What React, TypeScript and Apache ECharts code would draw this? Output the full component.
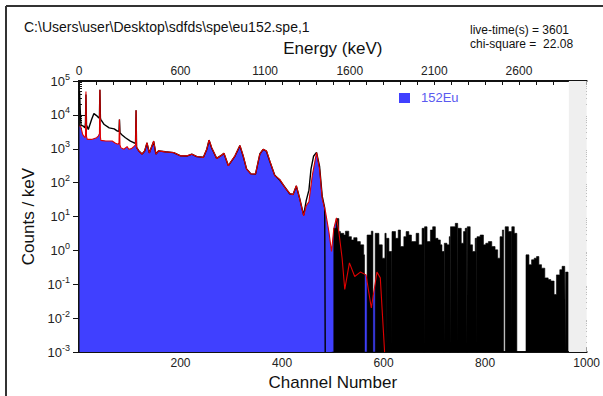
import React, { useEffect, useRef } from 'react';
import * as echarts from 'echarts';

// ---- Fit (red line / blue 152Eu area): channel, counts per keV ----
const fitChannels = [1, 3.3, 7.2, 11.8, 12.8, 13.7, 14.8, 16.3, 24.8, 34.6, 37.9, 40.3, 41.2, 42.2, 43.1, 52.9, 65.4, 71.9, 77.1, 78.8, 79.7, 80.7, 82.4, 88.2, 94.8, 98, 103.3, 107.8, 111.4, 112.4, 113.4, 117.6, 124.2, 129.4, 133.9, 138.6, 147.1, 151.6, 156.9, 170, 186.3, 199.3, 212.4, 222.2, 232, 245, 251.6, 256.2, 261.4, 271.2, 281, 285.6, 294.1, 307.2, 317, 323.5, 330.1, 338.6, 347.7, 356.2, 362.7, 369.3, 375.8, 385.6, 395.4, 405.2, 415, 421.6, 428.1, 434.6, 442.5, 447.7, 452.9, 459.5, 467.9, 473.9, 479.1, 485.6, 492.2, 497.4, 502, 507.2, 511.8, 518.3, 523.5, 532.7, 543.1, 554.2, 565.4, 575.8, 586.9, 593.5, 602];
const fitCounts = [4650, 4650, 2650, 2120, 2500, 49000, 2300, 1890, 1890, 2120, 2370, 2800, 54700, 2200, 1770, 1690, 1690, 1450, 1350, 1500, 7270, 1300, 1080, 967, 1160, 967, 1010, 1160, 1300, 13600, 1100, 865, 690, 865, 1510, 740, 1690, 690, 865, 810, 775, 618, 618, 690, 590, 552, 967, 1810, 1080, 516, 645, 740, 315, 618, 1260, 618, 252, 180, 180, 690, 967, 865, 441, 161, 125, 73, 48, 44, 82, 34, 10.5, 21, 27, 161, 775, 252, 34, 13.7, 3.6, 0.93, 4.5, 9.1, 3.6, 0.59, 0.071, 0.43, 0.17, 0.23, 0.19, 0.02, 0.23, 0.155, 0];

// ---- Measured data (black line), channels 0-485 ----
const dataChannels = [1, 2, 3, 4, 8.5, 11.8, 12.8, 13.7, 14.8, 18.3, 24.8, 29.4, 34.6, 39.2, 40.3, 41.2, 42.2, 43.1, 49.7, 59.5, 69.3, 75.8, 78.8, 79.7, 80.7, 83.7, 91.5, 101.3, 107.8, 111.4, 112.4, 113.4, 117.6, 124.2, 129.4, 133.9, 138.6, 147.1, 151.6, 156.9, 170, 186.3, 199.3, 212.4, 222.2, 232, 245, 251.6, 256.2, 261.4, 271.2, 281, 285.6, 294.1, 307.2, 317, 323.5, 330.1, 338.6, 347.7, 356.2, 362.7, 369.3, 375.8, 385.6, 395.4, 405.2, 415, 421.6, 428.1, 434.6, 442.5, 447.7, 452.9, 457, 462, 467.9, 473.9, 479.1, 484, 485];
const dataCounts = [50000, 20000, 9000, 5000, 4650, 4150, 6000, 40000, 5000, 3720, 7270, 10900, 9550, 8130, 9000, 54700, 8000, 7270, 5190, 4150, 3880, 3320, 3300, 7270, 3000, 2650, 2120, 1690, 1510, 1450, 13600, 1100, 880, 700, 860, 1480, 760, 1650, 700, 870, 820, 770, 625, 610, 700, 585, 560, 950, 1780, 1050, 520, 650, 730, 320, 610, 1240, 600, 255, 182, 178, 700, 960, 850, 430, 165, 120, 75, 47, 45, 80, 35, 11, 30, 60, 250, 600, 780, 300, 40, 18, 0];

// ---- Measured data, sparse tail (black fill), channels 498-965 (0 = empty channels) ----
const tailChannels = [498, 501.9, 506.5, 511.8, 515, 521.6, 524.8, 531.4, 536.6, 541.2, 547.7, 554.2, 560.8, 562.5, 567.5, 575.8, 579, 583.5, 587.6, 590.8, 597.4, 602.6, 605, 605.6, 607.2, 610.5, 616, 616.6, 623.5, 628.8, 633.3, 639.9, 644.4, 649.7, 654.9, 659.5, 664.1, 669.3, 675.8, 680, 680.7, 685.6, 692.2, 696.7, 702, 707.2, 711.8, 715, 719, 719.6, 724.8, 729.4, 731, 731.8, 734.6, 741.2, 746, 746.6, 753, 757.5, 760.8, 764, 764.8, 770.6, 775.2, 780.4, 783.5, 784, 790.2, 796.7, 801.3, 806.5, 813.1, 819.6, 824.8, 829.4, 834, 836.5, 839.5, 845.8, 852, 852.6, 857.5, 862.5, 880.5, 886.3, 891.5, 896.7, 901.3, 905.9, 911.1, 917.6, 924.2, 929.4, 935.9, 940.5, 947.1, 951.6, 956.9, 958, 958.6, 960.8, 963.4];
const tailCounts = [0, 4.5, 8.7, 3.6, 3.2, 2.85, 3.7, 2.55, 2.04, 2.38, 1.82, 1.46, 0.74, 0, 2.85, 3.7, 0, 3.2, 3.2, 1.46, 0.59, 3.2, 0, 2.28, 2.28, 0.93, 0, 3.6, 2.28, 4.0, 1.3, 2.55, 3.6, 2.85, 1.82, 1.82, 3.2, 1.46, 4.5, 0, 5.0, 1.82, 4.0, 5.0, 2.28, 2.04, 1.46, 0.93, 0, 1.63, 1.46, 2.55, 0, 5.0, 5.0, 6.3, 0, 4.5, 1.63, 3.6, 4.5, 0, 5.0, 1.46, 0.93, 2.28, 0, 2.55, 2.85, 1.46, 1.63, 1.82, 1.3, 1.04, 0.59, 2.55, 4.0, 0, 5.0, 3.6, 0, 5.0, 3.2, 0, 0.74, 0.38, 0.53, 0.59, 0.66, 0.38, 0.3, 0.155, 0.138, 0.125, 0.05, 0.19, 0.27, 0.34, 0.3, 0, 0.23, 0.23, 0];

const channelLabels = [200, 400, 600, 800, 1000];
const energyLabels = [0, 600, 1100, 1600, 2100, 2600];
const decades = [-3, -2, -1, 0, 1, 2, 3, 4, 5];
const excludedRange = [965, 1000];

const FLOOR = 1e-3;
const FONT = '"Liberation Sans", Arial, Helvetica, sans-serif';

const pairs = (xs: number[], ys: number[]) => xs.map((x, i) => [x, Math.max(ys[i], FLOOR)]);

export default function App() {
  const ref = useRef<HTMLDivElement>(null);
  useEffect(() => {
    document.body.style.margin = '0';
    const chart = echarts.init(ref.current!, null, { renderer: 'svg' });
    const minorY: number[] = [];
    decades.slice(0, -1).forEach((d) => {
      for (let m = 2; m <= 9; m++) minorY.push(m * Math.pow(10, d));
    });
    const logAxisBase = {
      type: 'log' as const,
      logBase: 10,
      min: 1e-3,
      max: 1e5,
      interval: 1,
      splitLine: { show: false },
    };
    const option: any = {
      animation: false,
      textStyle: { fontFamily: FONT },
      grid: { left: 79, right: 14, top: 81, bottom: 41, containLabel: false },
      xAxis: [
        {
          type: 'value',
          position: 'bottom',
          min: 0,
          max: 1000,
          interval: 200,
          splitLine: { show: false },
          axisLine: { lineStyle: { color: '#111', width: 2 } },
          axisTick: { inside: true, length: 5, lineStyle: { color: '#111' } },
          minorTick: { show: true, splitNumber: 2, length: 3, lineStyle: { color: '#111' } },
          axisLabel: {
            color: '#222',
            fontSize: 12,
            margin: 5,
            formatter: (v: number) => (channelLabels.includes(v) ? String(v) : ''),
          },
          name: 'Channel Number',
          nameLocation: 'middle',
          nameGap: 20,
          nameTextStyle: { color: '#111', fontSize: 17 },
        },
        {
          type: 'value',
          position: 'top',
          min: 0,
          max: 3000,
          interval: 100,
          splitLine: { show: false },
          axisLine: { lineStyle: { color: '#111', width: 2 } },
          axisTick: { inside: true, length: 4, lineStyle: { color: '#111' } },
          axisLabel: {
            color: '#222',
            fontSize: 12,
            margin: 4,
            interval: 0,
            formatter: (v: number) => (energyLabels.includes(v) ? String(v) : ''),
          },
          name: 'Energy (keV)',
          nameLocation: 'middle',
          nameGap: 24,
          nameTextStyle: { color: '#111', fontSize: 17 },
        },
      ],
      yAxis: [
        {
          ...logAxisBase,
          position: 'left',
          axisLine: { show: true, lineStyle: { color: '#111', width: 2 } },
          axisTick: { inside: true, length: 6, lineStyle: { color: '#111' } },
          axisLabel: {
            margin: 9,
            formatter: (v: number) => `{b|10}{s|${Math.round(Math.log10(v))}}`,
            rich: {
              b: { fontSize: 13, color: '#222', fontFamily: FONT },
              s: { fontSize: 9, color: '#222', fontFamily: FONT, padding: [0, 0, 9, 0] },
            },
          },
          name: 'Counts / keV',
          nameLocation: 'middle',
          nameGap: 42,
          nameRotate: 90,
          nameTextStyle: { color: '#111', fontSize: 17 },
        },
        {
          ...logAxisBase,
          position: 'right',
          axisLine: { show: true, lineStyle: { color: '#111', width: 2 } },
          axisTick: { inside: true, length: 6, lineStyle: { color: '#111' } },
          axisLabel: { show: false },
        },
        {
          ...logAxisBase,
          position: 'left',
          axisLine: { show: false },
          axisTick: { inside: true, length: 3, customValues: minorY, lineStyle: { color: '#111' } },
          axisLabel: { show: false },
        },
        {
          ...logAxisBase,
          position: 'right',
          axisLine: { show: false },
          axisTick: { inside: true, length: 3, customValues: minorY, lineStyle: { color: '#111' } },
          axisLabel: { show: false },
        },
      ],
      series: [
        {
          name: 'excluded',
          type: 'line',
          data: [],
          z: 0,
          silent: true,
          markArea: {
            silent: true,
            itemStyle: { color: '#efefef' },
            data: [[{ xAxis: excludedRange[0] }, { xAxis: excludedRange[1] }]],
          },
        },
        {
          name: '152Eu',
          type: 'line',
          data: pairs(fitChannels, fitCounts),
          showSymbol: false,
          lineStyle: { width: 0 },
          areaStyle: { color: '#4040ff', opacity: 1, origin: 'start' },
          z: 1,
          silent: true,
        },
        {
          name: 'tail',
          type: 'line',
          step: 'end',
          data: pairs(tailChannels, tailCounts),
          showSymbol: false,
          lineStyle: { width: 0.6, color: '#000' },
          areaStyle: { color: '#000', opacity: 1, origin: 'start' },
          z: 2,
          silent: true,
        },
        {
          name: 'data',
          type: 'line',
          data: pairs(dataChannels, dataCounts),
          showSymbol: false,
          lineStyle: { width: 1.4, color: '#000' },
          z: 3,
          silent: true,
        },
        {
          name: 'fit',
          type: 'line',
          data: pairs(fitChannels, fitCounts),
          showSymbol: false,
          lineStyle: { width: 1.1, color: '#e00000' },
          z: 4,
          silent: true,
        },
      ],
      graphic: [
        { type: 'line', shape: { x1: 6, y1: 6, x2: 603, y2: 6 }, style: { stroke: '#333', lineWidth: 2 } },
        { type: 'line', shape: { x1: 6, y1: 6, x2: 6, y2: 396 }, style: { stroke: '#333', lineWidth: 2 } },
        {
          type: 'text',
          left: 24,
          top: 20,
          style: { text: 'C:\\Users\\user\\Desktop\\sdfds\\spe\\eu152.spe,1', fontSize: 14, fill: '#111', fontFamily: FONT },
        },
        {
          type: 'text',
          left: 470,
          top: 24,
          style: { text: 'live-time(s) = 3601', fontSize: 12, fill: '#111', fontFamily: FONT },
        },
        {
          type: 'text',
          left: 470,
          top: 38,
          style: { text: 'chi-square =  22.08', fontSize: 12, fill: '#111', fontFamily: FONT },
        },
        { type: 'rect', shape: { x: 399, y: 93, width: 11, height: 10 }, style: { fill: '#4040ff' } },
        {
          type: 'text',
          left: 421,
          top: 91,
          style: { text: '152Eu', fontSize: 13, fill: '#5a5af0', fontFamily: FONT },
        },
      ],
    };
    chart.setOption(option);
    return () => chart.dispose();
  }, []);
  return <div ref={ref} style={{ width: 603, height: 396 }} />;
}
